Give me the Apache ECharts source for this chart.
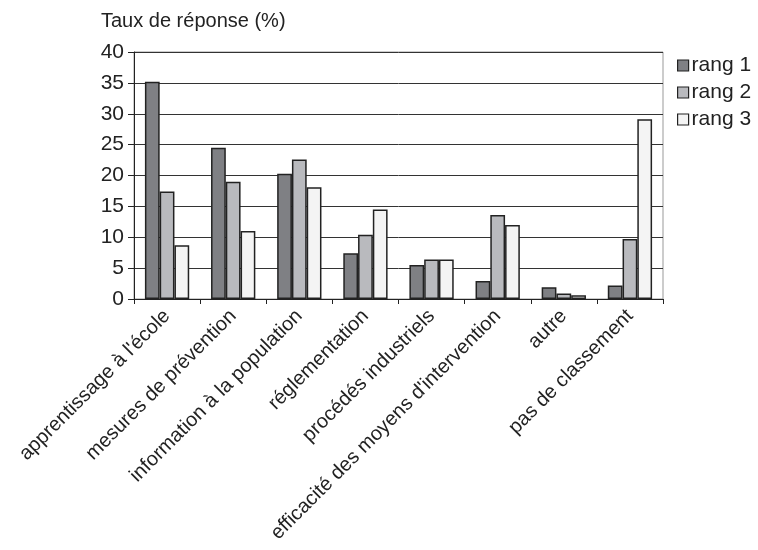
<!DOCTYPE html>
<html>
<head>
<meta charset="utf-8">
<script src="https://cdn.jsdelivr.net/npm/echarts@6/dist/echarts.min.js"></script>
<style>
  html, body { margin: 0; padding: 0; background: #fff; }
  #demo { width: 758px; height: 550px; }
</style>
</head>
<body>
<div id="demo"></div>
<script>
var categories = ["apprentissage à l'école", "mesures de prévention", "information à la population",
    "réglementation", "procédés industriels", "efficacité des moyens d'intervention", "autre", "pas de classement"];
var rang1 = [35.2, 24.5, 20.3, 7.4, 5.5, 2.9, 1.9, 2.2];
var rang2 = [17.4, 19.0, 22.6, 10.4, 6.4, 13.6, 0.9, 9.7];
var rang3 = [8.7, 11.0, 18.1, 14.5, 6.4, 12.0, 0.6, 29.1];
var seriesNames = ['rang 1', 'rang 2', 'rang 3'];
var colors = ['#7f8084', '#b9babe', '#f4f4f4'];

var font = 'Liberation Sans, Arial, sans-serif';
var mychar = echarts.init(document.getElementById('demo'));

function makeSeries(name, data, color) {
    return {
        name: name,
        type: 'bar',
        data: data,
        barGap: '0%',
        barCategoryGap: '33%',
        itemStyle: {
            color: color,
            borderColor: '#222',
            borderWidth: 1.5
        }
    };
}

mychar.setOption({
    animation: false,
    backgroundColor: '#fff',
    textStyle: { fontFamily: font },
    title: {
        text: 'Taux de réponse (%)',
        left: 96,
        top: 6,
        textStyle: { fontFamily: font, fontSize: 20, fontWeight: 'normal', color: '#222' }
    },
    legend: {
        orient: 'vertical',
        left: 672,
        top: 50,
        itemWidth: 11,
        itemHeight: 11,
        itemGap: 6,
        icon: 'rect',
        data: seriesNames,
        itemStyle: { borderColor: '#222', borderWidth: 1.2 },
        textStyle: { fontFamily: font, fontSize: 21, color: '#222', padding: [0, 0, 0, -2] }
    },
    grid: {
        left: 134,
        right: 95,
        top: 52,
        bottom: 251,
        show: true,
        borderColor: '#999',
        borderWidth: 1
    },
    xAxis: {
        type: 'category',
        data: categories,
        axisLine: { lineStyle: { color: '#222', width: 1 } },
        axisTick: { show: true, length: 5, lineStyle: { color: '#222' } },
        axisLabel: {
            interval: 0,
            rotate: 45,
            margin: 14,
            fontSize: 20,
            color: '#222',
            fontFamily: font
        }
    },
    yAxis: {
        type: 'value',
        min: 0,
        max: 40,
        interval: 5,
        axisLine: { show: true, lineStyle: { color: '#222', width: 1 } },
        axisTick: { show: true, length: 6, lineStyle: { color: '#222' } },
        splitLine: { show: true, lineStyle: { color: '#333', width: 1 } },
        axisLabel: { fontSize: 21, color: '#222', margin: 10, fontFamily: font }
    },
    series: [
        makeSeries(seriesNames[0], rang1, colors[0]),
        makeSeries(seriesNames[1], rang2, colors[1]),
        makeSeries(seriesNames[2], rang3, colors[2])
    ]
});
</script>
</body>
</html>
